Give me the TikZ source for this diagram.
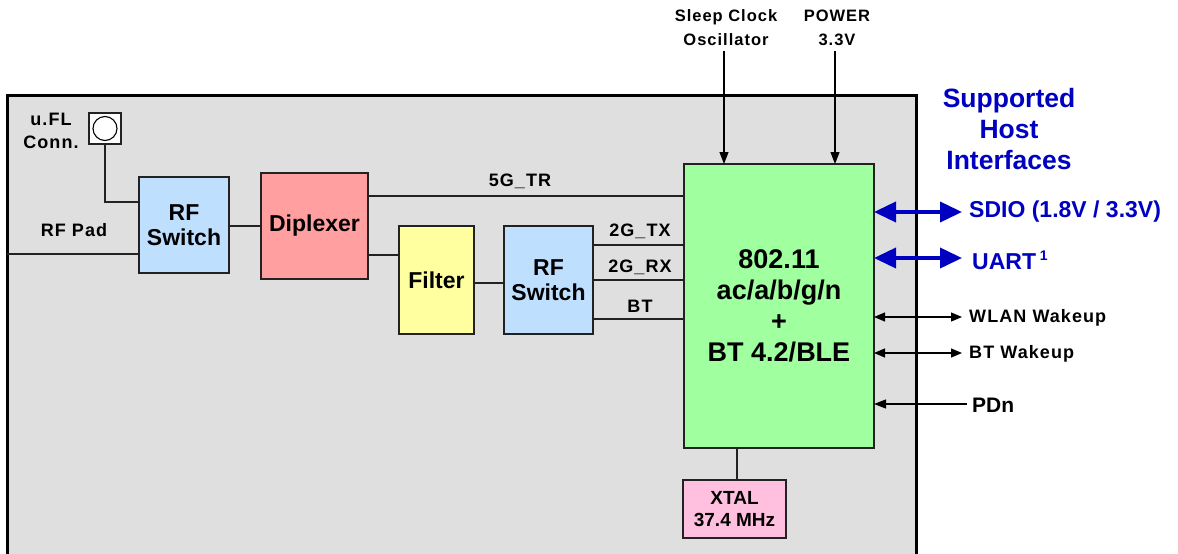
\documentclass[tikz,border=0pt]{standalone}
\usepackage{fontspec}
\setmainfont{Liberation Sans}
\newfontfamily\lblfont[LetterSpace=6]{Liberation Sans}
\usetikzlibrary{arrows.meta}
\definecolor{bgGrey}{HTML}{DFDFDF}
\definecolor{swBlue}{HTML}{BFDFFF}
\definecolor{dipRed}{HTML}{FF9F9F}
\definecolor{filYel}{HTML}{FFFF9F}
\definecolor{chipGreen}{HTML}{A0FF9F}
\definecolor{xtalPink}{HTML}{FFBFDF}
\definecolor{hostBlue}{HTML}{0000C0}
\definecolor{edge}{HTML}{222222}
\tikzset{
  blk/.style={draw=edge, line width=1.3pt, inner sep=0pt, outer sep=0pt, align=center,
    font=\bfseries\fontsize{23}{25}\selectfont},
  wire/.style={draw=edge, line width=1.3pt},
  lbl/.style={inner sep=0pt, font=\lblfont\bfseries\fontsize{18}{23}\selectfont, align=center},
  thinarr/.style={draw=black, line width=1.2pt, -{Triangle[length=12pt,width=9pt]}},
  thinboth/.style={draw=black, line width=1.2pt, {Triangle[length=11pt,width=9pt]}-{Triangle[length=11pt,width=9pt]}},
  bluearr/.style={draw=hostBlue, line width=3.8pt, {Triangle[length=22pt,width=20pt]}-{Triangle[length=22pt,width=20pt]}},
  hostlbl/.style={text=hostBlue, inner sep=0pt, anchor=west, font=\bfseries\fontsize{23}{26}\selectfont},
  sidelbl/.style={inner sep=0pt, anchor=west, font=\lblfont\bfseries\fontsize{18}{20}\selectfont}
}
\begin{document}
\begin{tikzpicture}[x=1pt,y=-1pt]
\clip (0,0) rectangle (1178,554);
% outer module frame
\draw[fill=bgGrey, line width=3pt] (7,95) rectangle (916,600);

% blocks
\node[blk, fill=white, minimum width=32pt, minimum height=31pt] (ufl) at (105,128.5) {};
\draw[line width=1.1pt, fill=white] (ufl.center) circle[radius=12pt];
\node[blk, fill=swBlue, minimum width=90pt, minimum height=96pt] (sw1) at (184,225) {RF\\Switch};
\node[blk, fill=dipRed, minimum width=107pt, minimum height=106pt] (dipl) at (314.5,226) {Diplexer};
\node[blk, fill=filYel, minimum width=75pt, minimum height=108pt] (filt) at (436.5,280) {Filter};
\node[blk, fill=swBlue, minimum width=89pt, minimum height=108pt] (sw2) at (548.5,280) {RF\\Switch};
\node[blk, fill=chipGreen, minimum width=190pt, minimum height=284pt,
      font=\bfseries\fontsize{27}{31}\selectfont] (chip) at (779,306) {802.11\\ac/a/b/g/n\\+\\BT 4.2/BLE};
\node[blk, fill=xtalPink, minimum width=103pt, minimum height=58pt,
      font=\bfseries\fontsize{19}{22}\selectfont] (xtal) at (734.5,509) {XTAL\\37.4 MHz};

% labels
\node[lbl] (ufllbl) at (51,130.5) {u.FL\\Conn.};
\node[lbl] (padlbl) at (74,230) {RF Pad};
\node[lbl] (g5lbl) at (520,181) {5G\_TR};
\node[lbl] (txlbl) at (640,231) {2G\_TX};
\node[lbl] (rxlbl) at (640,267) {2G\_RX};
\node[lbl] (btlbl) at (640,306) {BT};
\node[lbl, font=\lblfont\bfseries\fontsize{16.5}{24}\selectfont] (sleep) at (726,28) {Sleep Clock\\Oscillator};
\node[lbl, font=\lblfont\bfseries\fontsize{16.5}{24}\selectfont] (power) at (837,28) {POWER\\3.3V};
\node[text=hostBlue, inner sep=0pt, align=center, font=\bfseries\fontsize{26.5}{31}\selectfont] (host) at (1009,129) {Supported\\Host\\Interfaces};

% RF connections
\coordinate (padend) at (7,254);
\draw[wire] (ufl.south) |- (sw1.west |- 0,202);
\draw[wire] (padend) -- (padend -| sw1.west);
\draw[wire] (sw1.east |- dipl.west) -- (dipl.west);
\draw[wire] (dipl.east |- 0,196) -- (chip.west |- 0,196);
\draw[wire] (dipl.east |- 0,255) -- (filt.west |- 0,255);
\draw[wire] (filt.east |- 0,283) -- (sw2.west |- 0,283);
\draw[wire] (sw2.east |- 0,245) -- (chip.west |- 0,245);
\draw[wire] (sw2.east |- 0,280) -- (chip.west |- 0,280);
\draw[wire] (sw2.east |- 0,319) -- (chip.west |- 0,319);
\draw[wire] (xtal.north -| 737,0) -- (chip.south -| 737,0);

% top supply arrows
\coordinate (sleepend) at (724,51);
\coordinate (powerend) at (835,51);
\draw[thinarr] (sleepend) -- (chip.north -| sleepend);
\draw[thinarr] (powerend) -- (chip.north -| powerend);

% host interfaces
\node[hostlbl] (sdio) at (969,212) {SDIO (1.8V / 3.3V)};
\node[hostlbl] (uart) at (972,260) {UART\,\raisebox{9pt}{\fontsize{14}{14}\selectfont 1}};
\coordinate (sdioend) at (962,212);
\coordinate (uartend) at (962,258);
\draw[bluearr] (chip.east |- sdioend) -- (sdioend);
\draw[bluearr] (chip.east |- uartend) -- (uartend);

\node[sidelbl] (wlan) at (969,318) {WLAN Wakeup};
\node[sidelbl] (btw) at (969,354) {BT Wakeup};
\node[sidelbl, font=\bfseries\fontsize{21}{24}\selectfont] (pdn) at (972,405) {PDn};
\coordinate (wlanend) at (962,317);
\coordinate (btwend) at (962,353);
\coordinate (pdnend) at (967,404);
\draw[thinboth] (chip.east |- wlanend) -- (wlanend);
\draw[thinboth] (chip.east |- btwend) -- (btwend);
\draw[thinarr] (pdnend) -- (chip.east |- pdnend);
\end{tikzpicture}
\end{document}
